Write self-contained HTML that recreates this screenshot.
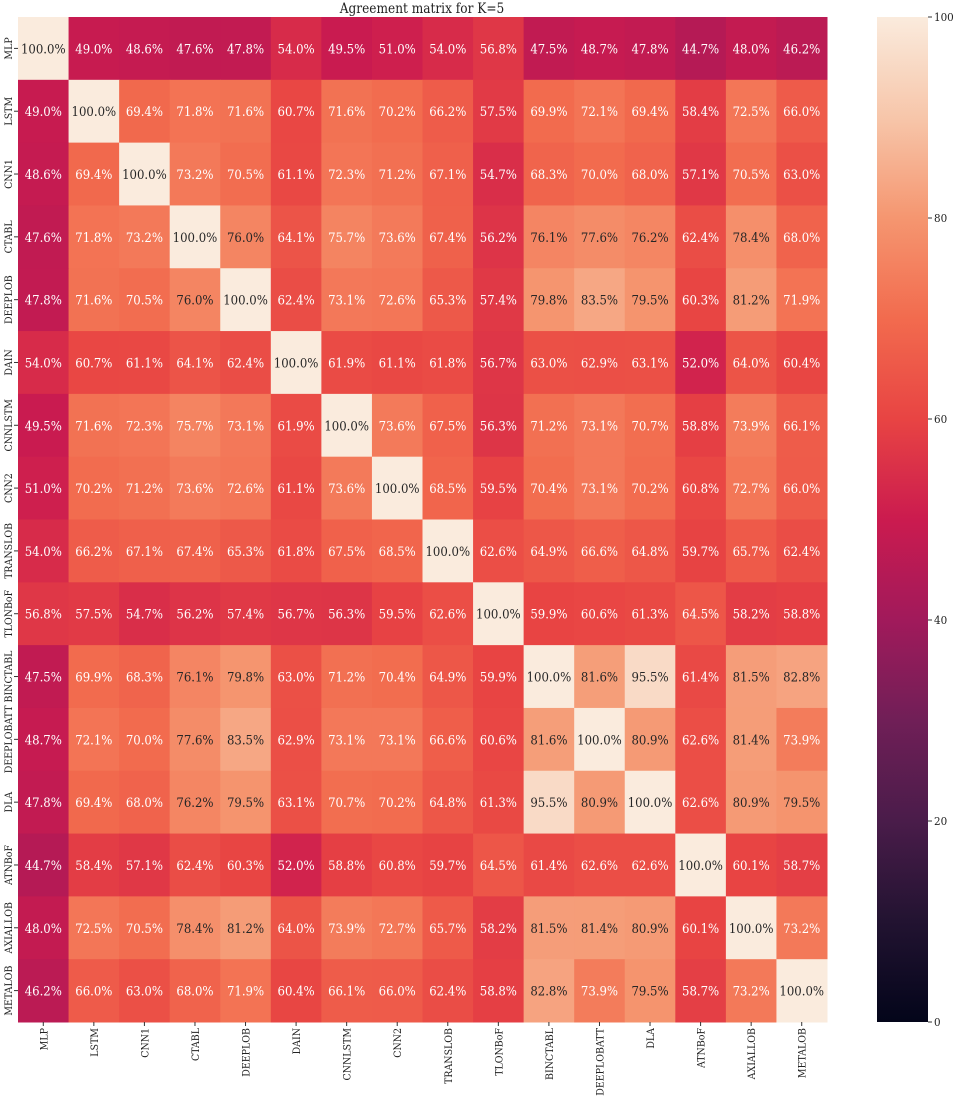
<!DOCTYPE html>
<html><head><meta charset="utf-8">
<style>
html,body{margin:0;padding:0;background:#fff;}
svg{display:block;font-family:"DejaVu Serif Condensed","DejaVu Serif","Liberation Serif",serif;font-stretch:condensed;}
</style></head>
<body>
<svg id="chart" width="955" height="1100" viewBox="0 0 955 1100" xmlns="http://www.w3.org/2000/svg">
<text x="422" y="13" text-anchor="middle" font-size="13.5" fill="#222">Agreement matrix for K=5</text>
<g id="cells"></g>
<g id="axes"></g>
<defs><linearGradient id="cbgrad" x1="0" y1="1" x2="0" y2="0"></linearGradient></defs>
<rect x="877" y="17" width="51" height="1005" fill="url(#cbgrad)"/>
<g id="cbticks"></g>
</svg>
<script>
const labels = ["MLP","LSTM","CNN1","CTABL","DEEPLOB","DAIN","CNNLSTM","CNN2","TRANSLOB","TLONBoF","BINCTABL","DEEPLOBATT","DLA","ATNBoF","AXIALLOB","METALOB"];
const matrix = [
[100,49.0,48.6,47.6,47.8,54.0,49.5,51.0,54.0,56.8,47.5,48.7,47.8,44.7,48.0,46.2],
[49.0,100,69.4,71.8,71.6,60.7,71.6,70.2,66.2,57.5,69.9,72.1,69.4,58.4,72.5,66.0],
[48.6,69.4,100,73.2,70.5,61.1,72.3,71.2,67.1,54.7,68.3,70.0,68.0,57.1,70.5,63.0],
[47.6,71.8,73.2,100,76.0,64.1,75.7,73.6,67.4,56.2,76.1,77.6,76.2,62.4,78.4,68.0],
[47.8,71.6,70.5,76.0,100,62.4,73.1,72.6,65.3,57.4,79.8,83.5,79.5,60.3,81.2,71.9],
[54.0,60.7,61.1,64.1,62.4,100,61.9,61.1,61.8,56.7,63.0,62.9,63.1,52.0,64.0,60.4],
[49.5,71.6,72.3,75.7,73.1,61.9,100,73.6,67.5,56.3,71.2,73.1,70.7,58.8,73.9,66.1],
[51.0,70.2,71.2,73.6,72.6,61.1,73.6,100,68.5,59.5,70.4,73.1,70.2,60.8,72.7,66.0],
[54.0,66.2,67.1,67.4,65.3,61.8,67.5,68.5,100,62.6,64.9,66.6,64.8,59.7,65.7,62.4],
[56.8,57.5,54.7,56.2,57.4,56.7,56.3,59.5,62.6,100,59.9,60.6,61.3,64.5,58.2,58.8],
[47.5,69.9,68.3,76.1,79.8,63.0,71.2,70.4,64.9,59.9,100,81.6,95.5,61.4,81.5,82.8],
[48.7,72.1,70.0,77.6,83.5,62.9,73.1,73.1,66.6,60.6,81.6,100,80.9,62.6,81.4,73.9],
[47.8,69.4,68.0,76.2,79.5,63.1,70.7,70.2,64.8,61.3,95.5,80.9,100,62.6,80.9,79.5],
[44.7,58.4,57.1,62.4,60.3,52.0,58.8,60.8,59.7,64.5,61.4,62.6,62.6,100,60.1,58.7],
[48.0,72.5,70.5,78.4,81.2,64.0,73.9,72.7,65.7,58.2,81.5,81.4,80.9,60.1,100,73.2],
[46.2,66.0,63.0,68.0,71.9,60.4,66.1,66.0,62.4,58.8,82.8,73.9,79.5,58.7,73.2,100]
];
const ticks = [0,20,40,60,80,100];

const NS="http://www.w3.org/2000/svg";
const X0=18,X1=827,Y0=17,Y1=1022,VMIN=0,VMAX=100;
const n=labels.length, cw=(X1-X0)/n, ch=(Y1-Y0)/n;
const stops=[[0,"#03051a"],[0.1,"#221331"],[0.2,"#4a1c4a"],[0.3,"#701f57"],[0.4,"#a11a5b"],[0.5,"#cb1b4f"],[0.6,"#e84443"],[0.7,"#f26b4e"],[0.8,"#f59670"],[0.9,"#f7c6aa"],[1,"#faebdd"]];
function hex(h){return [1,3,5].map(i=>parseInt(h.substr(i,2),16));}
function cmap(v){
  let t=Math.max(0,Math.min(1,(v-VMIN)/(VMAX-VMIN)));
  for(let i=1;i<stops.length;i++){
    if(t<=stops[i][0]){
      const a=hex(stops[i-1][1]),b=hex(stops[i][1]);
      const f=(t-stops[i-1][0])/(stops[i][0]-stops[i-1][0]);
      return "rgb("+a.map((c,k)=>Math.round(c+(b[k]-c)*f)).join(",")+")";
    }
  }
  return stops[stops.length-1][1];
}
const xPos=j=>X0+j*cw, yPos=i=>Y0+i*ch;
const cells=document.getElementById("cells");
matrix.forEach((row,i)=>row.forEach((v,j)=>{
  const r=document.createElementNS(NS,"rect");
  
  
  r.setAttribute("x",xPos(j));r.setAttribute("y",yPos(i));
  r.setAttribute("width",cw+0.5);r.setAttribute("height",ch+0.5);
  r.setAttribute("fill",cmap(v));
  cells.appendChild(r);
  const t=document.createElementNS(NS,"text");
  
  
  t.setAttribute("x",xPos(j)+cw/2);t.setAttribute("y",yPos(i)+ch/2+5);
  t.setAttribute("text-anchor","middle");t.setAttribute("font-size","13");
  t.setAttribute("fill",v>=76?"#262626":"#ffffff");
  t.textContent=v.toFixed(1)+"%";
  cells.appendChild(t);
}));
const axes=document.getElementById("axes");
labels.forEach((l,i)=>{
  const y=yPos(i)+ch/2;
  const tl=document.createElementNS(NS,"line");
  
  
  tl.setAttribute("x1",X0-4);tl.setAttribute("x2",X0);tl.setAttribute("y1",y);tl.setAttribute("y2",y);tl.setAttribute("stroke","#333");
  axes.appendChild(tl);
  const t=document.createElementNS(NS,"text");
  
  
  t.setAttribute("transform","translate("+(X0-6)+","+y+") rotate(-90)");
  t.setAttribute("text-anchor","middle");t.setAttribute("font-size","10.5");t.setAttribute("fill","#222");
  t.textContent=l;axes.appendChild(t);
  const x=xPos(i)+cw/2;
  const tx=document.createElementNS(NS,"line");
  
  
  tx.setAttribute("x1",x);tx.setAttribute("x2",x);tx.setAttribute("y1",Y1);tx.setAttribute("y2",Y1+4);tx.setAttribute("stroke","#333");
  axes.appendChild(tx);
  const xt=document.createElementNS(NS,"text");
  
  
  xt.setAttribute("transform","translate("+(x+4)+","+(Y1+6)+") rotate(-90)");
  xt.setAttribute("text-anchor","end");xt.setAttribute("font-size","10.5");xt.setAttribute("fill","#222");
  xt.textContent=l;axes.appendChild(xt);
});
const grad=document.getElementById("cbgrad");
stops.forEach(s=>{
  const st=document.createElementNS(NS,"stop");
  st.setAttribute("offset",s[0]);st.setAttribute("stop-color",s[1]);grad.appendChild(st);
});
const cb=document.getElementById("cbticks");
const cbY=v=>Y1-(v-VMIN)/(VMAX-VMIN)*(Y1-Y0);
ticks.forEach(v=>{
  const y=cbY(v);
  const l=document.createElementNS(NS,"line");
  
  
  l.setAttribute("x1",928);l.setAttribute("x2",932);l.setAttribute("y1",y);l.setAttribute("y2",y);l.setAttribute("stroke","#333");
  cb.appendChild(l);
  const t=document.createElementNS(NS,"text");
  
  
  t.setAttribute("x",934);t.setAttribute("y",y+4);t.setAttribute("font-size","11.5");t.setAttribute("fill","#222");
  t.textContent=v;cb.appendChild(t);
});
</script>
</body></html>
